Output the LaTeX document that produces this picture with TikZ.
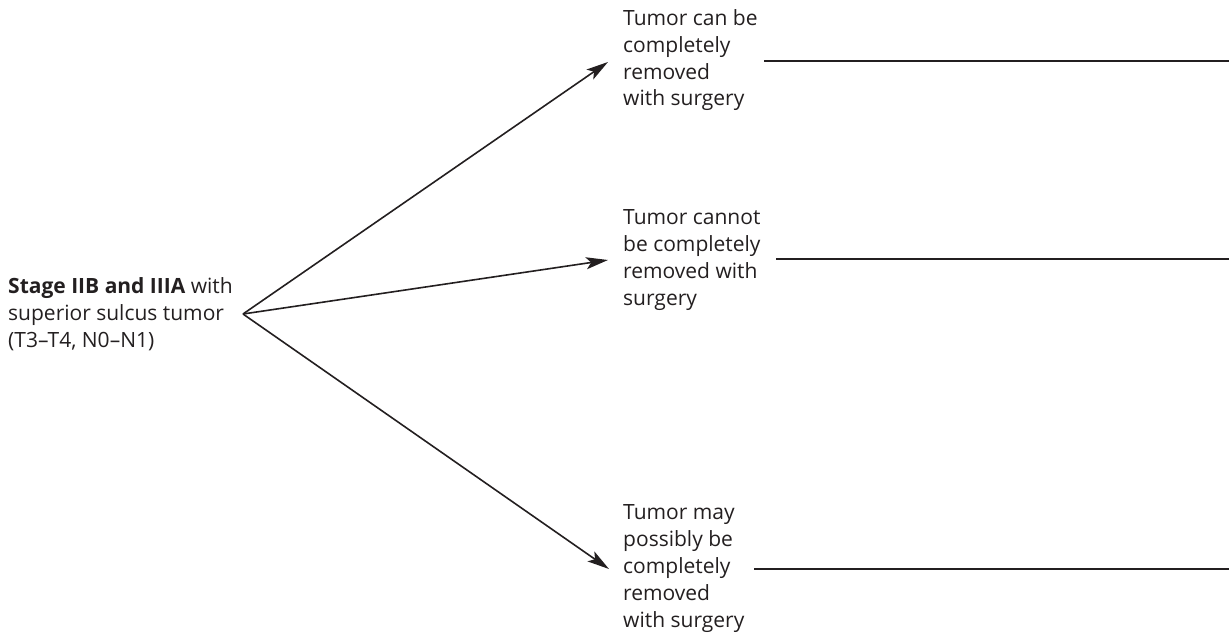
\documentclass[tikz,border=0pt]{standalone}
\usepackage{fontspec}
\setmainfont{Open Sans}
\usetikzlibrary{arrows.meta}
\definecolor{ink}{HTML}{231F20}
\begin{document}
\begin{tikzpicture}[x=1pt,y=-1pt,
  lbl/.style={anchor=base west,inner sep=0pt,align=left,text=ink,
    font=\fontsize{21}{26.8}\selectfont},
  arr/.style={draw=ink,line width=1.6pt,-{Stealth[length=22pt,width=12pt,inset=5pt]}},
  rule/.style={draw=ink,line width=2pt}]
\useasboundingbox (0,0) rectangle (1229,634);
\node[lbl] (src) at (8,347) {\textbf{Stage IIB and IIIA} with\\superior sulcus tumor\\(T3–T4, N0–N1)};
\coordinate (apex) at (243,314);
\node[lbl] (t1) at (623,106) {Tumor can be\\completely\\removed\\with surgery};
\node[lbl] (t2) at (623,305) {Tumor cannot\\be completely\\removed with\\surgery};
\node[lbl] (t3) at (623,627) {Tumor may\\possibly be\\completely\\removed\\with surgery};
\coordinate (a1) at (608,62);
\coordinate (a2) at (608,260);
\coordinate (a3) at (609,569);
\draw[arr] (apex) -- (a1);
\draw[arr] (apex) -- (a2);
\draw[arr] (apex) -- (a3);
\coordinate (l1s) at (764,61);  \coordinate (l1e) at (1229,61);
\coordinate (l2s) at (776,259); \coordinate (l2e) at (1229,259);
\coordinate (l3s) at (754,569); \coordinate (l3e) at (1229,569);
\draw[rule] (l1s) -- (l1e);
\draw[rule] (l2s) -- (l2e);
\draw[rule] (l3s) -- (l3e);
\end{tikzpicture}
\end{document}
